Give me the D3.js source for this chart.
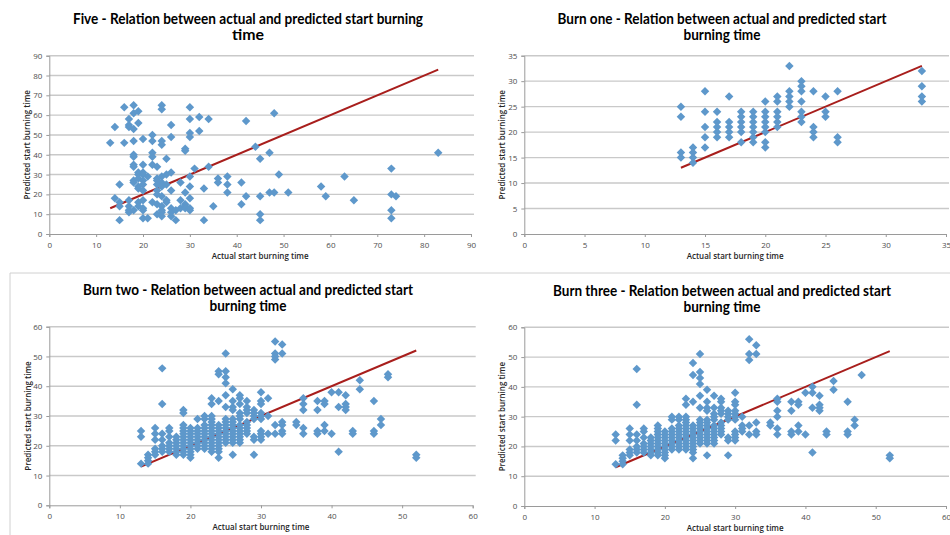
<!DOCTYPE html>
<meta charset="utf-8">
<style>
  body{ margin:0; background:#fff; }
  .title{ font-family:Lato, "Open Sans", sans-serif; font-weight:bold; fill:#000; }
  .tick text{ font-family:"Open Sans", sans-serif; font-size:8px; fill:#4d4d4d; }
  .axisTitle{ font-family:"Open Sans", sans-serif; font-size:8px; font-weight:600; fill:#262626; }
  .grid line{ stroke:#c9c9c9; stroke-width:1.4px; }
  .domain, .tick line{ stroke:#9a9a9a; }
</style>
<body>
<script src="https://cdn.jsdelivr.net/npm/d3@7/dist/d3.min.js"></script>
<script>

  // actual start time -> predicted start times
  var fivePoints=[[13,[46]],[14,[54,18]],[15,[25,16,14,7]],[16,[64,46]],
    [17,[58,55,54,17,14,12,11]],[18,[65,61,53,47,40,39,35,34,27,26,12]],
    [19,[62,56,31,30,28,24,23,16,14]],[20,[48,35,31,30,27,25,22,17,13,12,8]],
    [21,[29,8]],[22,[50,47,41,39,35,16]],[23,[34,28,27,25,22,20,15,10]],
    [24,[65,63,47,45,29,26,24,19,14,12,11,9]],[25,[38,30,25,17,16]],
    [26,[55,49,31,22,13,11,9]],[27,[12,7]],[28,[26,17,13]],[29,[43,42,21,15,14,13]],
    [30,[64,58,51,49,29,24,18,13,12]],[31,[33]],[32,[59,52]],[33,[23,7]],
    [34,[58,34]],[35,[14]],[36,[28,26]],[38,[29,25,21]],[41,[26,15]],[42,[57,19]],
    [44,[44]],[45,[38,19,10,7]],[47,[41,21]],[48,[61,21]],[49,[30]],[51,[21]],
    [58,[24]],[59,[19]],[63,[29]],[65,[17]],[73,[33,20,12,8]],[74,[19]],[83,[41]]];

  var burnOnePoints=[[13,[25,23,16,15]],[14,[17,16,15,14]],[15,[28,24,21,19,17]],
    [16,[24,22,21,20,19]],[17,[27,22,21,20,19]],[18,[24,23,22,21,20,18]],
    [19,[24,23,22,21,20,19,18]],[20,[26,24,23,22,21,20,18,17]],
    [21,[27,26,24,23,22,21]],[22,[33,28,27,26,25]],[23,[30,29,28,26,24,23,22]],
    [24,[28,21,20,19]],[25,[27,24,23]],[26,[28,19,18]],[33,[32,29,27,26]]];

  var burnTwoPoints=[[13,[25,23,14]],[14,[17,16,15,14]],[15,[26,24,22,19,18,17]],
    [16,[46,34,24,22,20,19,18]],[17,[26,25,23,21,20,19,18]],[18,[23,22,21,20,19,18,17]],
    [19,[32,31,27,26,25,24,23,22,21,20,19,18,17]],[20,[26,25,24,23,22,21,20,19,18,17,16]],
    [21,[29,26,25,24,23,22,21,20,19]],[22,[30,29,27,26,25,24,23,22,21,20,19]],
    [23,[36,34,30,29,28,27,26,25,24,23,22,21,20,19,18]],
    [24,[45,44,35,27,26,25,24,23,22,21,20,19,18,16]],
    [25,[51,45,43,41,37,33,29,28,27,26,25,24,23,22,21]],
    [26,[39,35,33,32,29,28,27,26,25,24,23,22,21,17]],
    [27,[37,36,34,31,30,29,27,26,25,24,23,22,21]],[28,[35,33,32,31,28,27,26,25,24]],
    [29,[32,31,30,29,23,22,17]],[30,[38,35,34,31,30,29,25,24,23,22]],[31,[36,30,24]],
    [32,[55,51,50,49,27,24]],[33,[54,51,28,27,25,24]],[35,[28,27]],[36,[36,34,32,26,24]],
    [38,[35,32,25,24]],[39,[35,34,27,25]],[40,[38,24]],[41,[38,33,18]],[42,[37,34,33,32]],
    [43,[25,24]],[44,[42,39]],[46,[35,25,24]],[47,[29,27]],[48,[44,43]],[52,[17,16]]];

  var burnThreePoints=[[13,[24,22,14]],[14,[17,16,15,14]],[15,[26,24,22,19,18,17]],
    [16,[46,34,24,22,20,19,18]],[17,[26,25,23,21,20,19,18]],[18,[23,22,21,20,19,18,17]],
    [19,[27,26,25,24,23,22,21,20,19,18,17]],[20,[25,24,23,22,21,20,19,18,17,16]],
    [21,[30,29,26,25,24,23,22,21,20,19]],[22,[30,29,27,26,25,24,23,22,21,20,19]],
    [23,[36,34,30,29,28,27,26,25,24,23,22,21,20,19]],
    [24,[48,44,35,27,26,25,24,23,22,21,20,19,18,16]],
    [25,[51,45,43,41,37,33,29,28,27,26,25,24,23,22,21]],
    [26,[39,35,33,32,29,28,27,26,25,24,23,22,21,17]],
    [27,[37,33,31,30,29,27,26,25,24,23,22,21]],[28,[36,35,33,32,31,28,27,26,25,24]],
    [29,[32,31,30,29,23,22,17]],[30,[38,35,34,32,31,30,29,25,24,23,22]],[31,[30,27,26,25]],
    [32,[56,51,49,27,24]],[33,[54,51,28,25,24]],[35,[28,27]],[36,[36,35,32,30,26,24]],
    [38,[35,32,25,24]],[39,[35,34,27,25]],[40,[38,24]],[41,[40,38,33,18]],[42,[37,34,33,32]],
    [43,[25,24]],[44,[42,39]],[46,[35,25,24]],[47,[29,27]],[48,[44]],[52,[17,16]]];

  var titles=[["Five - Relation between actual and predicted start burning","time"],
    ["Burn one - Relation between actual and predicted start","burning time"],
    ["Burn two - Relation between actual and predicted start","burning time"],
    ["Burn three - Relation between actual and predicted start","burning time"]];

  var ticks90=[0,10,20,30,40,50,60,70,80,90];
  var ticks35=[0,5,10,15,20,25,30,35];
  var ticks60=[0,10,20,30,40,50,60];

  var xTitle="Actual start burning time", yTitle="Predicted start burning time";
  var blue="#5e98cb", red="#a81e1c";

  var svg=d3.select("body").append("svg").attr("width",950).attr("height",535);

  // frame around the lower charts
  svg.append("path").attr("d","M10,535V273H950").attr("fill","none").attr("stroke","#d0d0d0");

  var layout=[
    {pts:fivePoints, t:titles[0], xt:ticks90, yt:ticks90, l:49.3, r:471, top:55.7, b:234, cx:248, ty:24, tw:[350,32], yx:27},
    {pts:burnOnePoints, t:titles[1], xt:ticks35, yt:ticks35, l:524.3, r:946, top:55.7, b:234, cx:722, ty:24, tw:[329,77], yx:502},
    {pts:burnTwoPoints, t:titles[2], xt:ticks60, yt:ticks60, l:49.3, r:472.7, top:326.7, b:505.3, cx:248, ty:295, tw:[330,77], yx:28},
    {pts:burnThreePoints, t:titles[3], xt:ticks60, yt:ticks60, l:524.3, r:946, top:327.3, b:506, cx:722, ty:295.5, tw:[338,77], yx:502}
  ];

  layout.forEach(function(p){
    var flat=[];
    p.pts.forEach(function(c){ c[1].forEach(function(v){ flat.push([c[0],v]); }); });

    var x=d3.scaleLinear().domain(d3.extent(p.xt)).range([p.l,p.r]);
    var y=d3.scaleLinear().domain(d3.extent(p.yt)).range([p.b,p.top]);
    var g=svg.append("g");

    g.append("g").attr("class","grid").selectAll("line").data(p.yt.slice(1)).join("line")
      .attr("x1",p.l).attr("x2",p.r+3).attr("y1",d=>y(d)).attr("y2",d=>y(d));

    g.append("g").attr("transform","translate(0,"+p.b+")")
      .call(d3.axisBottom(x).tickValues(p.xt).tickSize(3).tickPadding(5).tickFormat(d3.format("d")));
    g.append("g").attr("transform","translate("+p.l+",0)")
      .call(d3.axisLeft(y).tickValues(p.yt).tickSize(3).tickPadding(4).tickFormat(d3.format("d")));
    g.selectAll(".domain").attr("stroke","#9a9a9a");

    // trend line y = x across the actual range
    var ext=d3.extent(flat,d=>d[0]);
    g.append("line").attr("x1",x(ext[0])).attr("y1",y(ext[0])).attr("x2",x(ext[1])).attr("y2",y(ext[1]))
      .attr("stroke",red).attr("stroke-width",2);

    g.append("g").selectAll("path").data(flat).join("path")
      .attr("d",d3.symbol(d3.symbolSquare,36))
      .attr("transform",d=>"translate("+x(d[0])+","+y(d[1])+") rotate(45)")
      .attr("fill",blue);

    p.t.forEach(function(s,i){
      g.append("text").attr("class","title").attr("x",p.cx).attr("y",p.ty+i*16)
        .attr("text-anchor","middle").attr("font-size",14.5)
        .attr("textLength",p.tw[i]).attr("lengthAdjust","spacingAndGlyphs").text(s);
    });

    g.append("text").attr("class","axisTitle").attr("x",(p.l+p.r)/2).attr("y",p.b+25)
      .attr("text-anchor","middle").text(xTitle);
    g.append("text").attr("class","axisTitle")
      .attr("transform","translate("+p.yx+","+(p.top+p.b)/2+") rotate(-90)")
      .attr("text-anchor","middle").attr("dy","0.35em").text(yTitle);
  });
</script>
</body>
</html>
